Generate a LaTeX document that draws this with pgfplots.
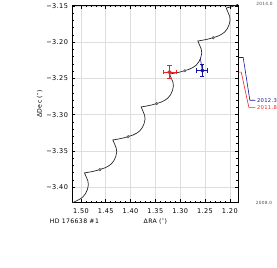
\documentclass[border=0pt]{standalone}
\usepackage{pgfplots}
\pgfplotsset{compat=1.18}
\usepackage{fontspec}
\setmainfont{DejaVu Sans}[LetterSpace=6]
\definecolor{myred}{RGB}{235,35,35}
\definecolor{myblue}{RGB}{20,20,160}
\definecolor{gridc}{RGB}{222,222,222}
\newcommand{\tf}{\fontsize{6.6}{7.5}\selectfont}
\begin{document}
\begin{tikzpicture}
\begin{axis}[
  name=ax,
  scale only axis, width=167pt, height=198.3pt,
  x dir=reverse,
  xmin=1.183, xmax=1.517, ymin=-3.421, ymax=-3.1497,
  xtick={1.20,1.25,1.30,1.35,1.40,1.45,1.50},
  xticklabels={1.20,1.25,1.30,1.35,1.40,1.45,1.50},
  ytick={-3.40,-3.35,-3.30,-3.25,-3.20,-3.15},
  yticklabels={−3.40,−3.35,−3.30,−3.25,−3.20,−3.15},
  minor tick num=4,
  grid=major, major grid style={gridc, line width=0.5pt},
  tick align=inside, major tick length=3pt, minor tick length=1.8pt,
  tick style={black, line width=0.45pt},
  axis line style={black, line width=0.55pt},
  xticklabel style={font=\tf, yshift=-2.5pt},
  yticklabel style={font=\tf, xshift=-1pt},
  xlabel={ΔRA (″)}, ylabel={ΔDec (″)},
  xlabel style={font=\fontsize{6.2}{7}\selectfont, at={(axis description cs:0.5,-0.099)}, anchor=center},
  ylabel style={font=\fontsize{6.2}{7}\selectfont, at={(axis description cs:-0.198,0.5)}, anchor=center},
  clip=false,
]
% apparent path
\addplot[black!85, line width=0.7pt] coordinates {
(1.5170,-3.4215) (1.5099,-3.4191) (1.5019,-3.4164) (1.4959,-3.4134) (1.4904,-3.4086)
(1.4869,-3.4032) (1.4849,-3.3970) (1.4859,-3.3915) (1.4889,-3.3865) (1.4928,-3.3803)
(1.4828,-3.3792) (1.4728,-3.3778) (1.4628,-3.3759) (1.4528,-3.3737) (1.4448,-3.3710)
(1.4388,-3.3680) (1.4333,-3.3632) (1.4298,-3.3578) (1.4278,-3.3516) (1.4288,-3.3461)
(1.4318,-3.3411) (1.4357,-3.3349)
(1.4257,-3.3338) (1.4157,-3.3324) (1.4057,-3.3305) (1.3957,-3.3283) (1.3877,-3.3256)
(1.3817,-3.3226) (1.3762,-3.3178) (1.3727,-3.3124) (1.3707,-3.3062) (1.3717,-3.3007)
(1.3747,-3.2957) (1.3786,-3.2894)
(1.3686,-3.2883) (1.3586,-3.2869) (1.3486,-3.2850) (1.3386,-3.2828) (1.3306,-3.2801)
(1.3246,-3.2771) (1.3191,-3.2723) (1.3156,-3.2669) (1.3136,-3.2607) (1.3146,-3.2552)
(1.3176,-3.2502) (1.3215,-3.2440)
(1.3115,-3.2429) (1.3015,-3.2415) (1.2915,-3.2396) (1.2815,-3.2374) (1.2735,-3.2347)
(1.2675,-3.2317) (1.2620,-3.2269) (1.2585,-3.2215) (1.2565,-3.2153) (1.2575,-3.2098)
(1.2605,-3.2048) (1.2644,-3.1985)
(1.2544,-3.1974) (1.2444,-3.1960) (1.2344,-3.1941) (1.2244,-3.1919) (1.2164,-3.1892)
(1.2104,-3.1862) (1.2049,-3.1814) (1.2014,-3.1760) (1.1994,-3.1698) (1.2004,-3.1643)
(1.2034,-3.1593) (1.2073,-3.1531)
(1.1973,-3.1515) (1.1890,-3.1495) (1.1834,-3.1480)
};
% yearly dots
\addplot[only marks, mark=*, mark size=1.3pt, draw=black!70, fill=black!40, line width=0.4pt] coordinates {
(1.4618,-3.3758) (1.4047,-3.3304) (1.3476,-3.2849) (1.2905,-3.2395) (1.2334,-3.1940)
};
% connector to blue measurement
\addplot[myblue, line width=0.6pt] coordinates {(1.2595,-3.2215) (1.2554,-3.2392)};
% measurements
\addplot[only marks, mark=none, myred,
  error bars/.cd, x dir=both, x explicit, y dir=both, y explicit,
  error bar style={line width=1.1pt, myred},
  error mark options={rotate=90, mark size=2.2pt, line width=0.9pt, myred}]
  coordinates {(1.3214,-3.2415) +- (0.0133,0.0092)};
\addplot[only marks, mark=none, myblue,
  error bars/.cd, x dir=both, x explicit, y dir=both, y explicit,
  error bar style={line width=1.1pt, myblue},
  error mark options={rotate=90, mark size=2.2pt, line width=0.9pt, myblue}]
  coordinates {(1.2554,-3.2392) +- (0.0110,0.0082)};
% time scale on the right
\draw[myblue, line width=0.6pt] (axis description cs:1,0.736) -- (axis description cs:1.030,0.736)
  -- (axis description cs:1.070,0.519) -- (axis description cs:1.104,0.519);
\draw[myred, line width=0.6pt] (axis description cs:1,0.662) -- (axis description cs:1.018,0.662)
  -- (axis description cs:1.064,0.483) -- (axis description cs:1.104,0.483);
\node[anchor=west, inner sep=0pt, text=myblue, font=\fontsize{5.3}{6}\selectfont] at (axis description cs:1.112,0.519) {2012.3};
\node[anchor=west, inner sep=0pt, text=myred, font=\fontsize{5.3}{6}\selectfont] at (axis description cs:1.112,0.483) {2011.8};
\node[anchor=center, inner sep=0pt, text=black!70, font=\fontsize{4.3}{5}\selectfont] at (axis description cs:1.159,1.010) {2014.0};
\node[anchor=center, inner sep=0pt, text=black!70, font=\fontsize{4.3}{5}\selectfont] at (axis description cs:1.156,-0.005) {2008.0};
\node[anchor=west, inner sep=0pt, font=\fontsize{6.2}{7}\selectfont] at (axis description cs:-0.138,-0.094) {HD 176638 \#1};
\end{axis}
\path[use as bounding box] ([xshift=-73pt,yshift=-66pt]ax.south west) rectangle ([xshift=37pt,yshift=4.7pt]ax.north east);
\end{tikzpicture}
\end{document}
